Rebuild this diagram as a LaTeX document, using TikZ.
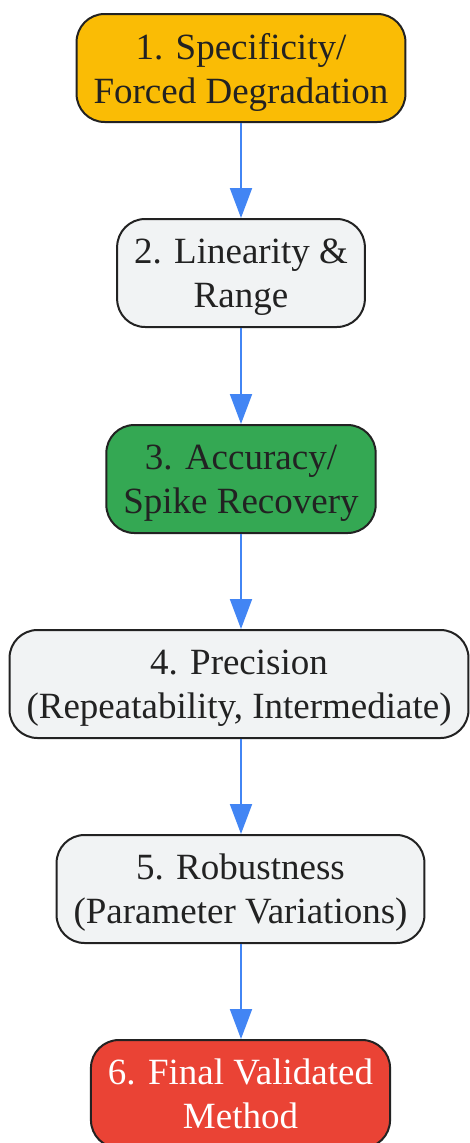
\documentclass[tikz,border=0pt]{standalone}
\usepackage{fontspec}
\setmainfont{Liberation Serif}
\usetikzlibrary{arrows.meta}
\definecolor{jaune}{HTML}{FABC05}
\definecolor{gris}{HTML}{F1F3F4}
\definecolor{vert}{HTML}{34A853}
\definecolor{rouge}{HTML}{EA4335}
\definecolor{bleu}{HTML}{4285F4}
\definecolor{bord}{HTML}{222222}

\begin{document}
\begin{tikzpicture}[x=1pt,y=-1pt]
	\tikzstyle{etape}=[draw=bord,line width=2pt,rounded corners=28pt,minimum height=108pt,inner xsep=17pt,text depth=0pt,align=center,text=bord,font=\fontsize{37}{44}\selectfont]
	\tikzstyle{fleche}=[draw=bleu,line width=2pt,-{Triangle[length=30pt,width=22pt]}]
	\useasboundingbox (0,0) rectangle (470,1143);
	\clip (0,0) rectangle (470,1143);
	\node[etape,fill=jaune] (A) at (241,68){1. Specificity/\\Forced Degradation};
	\node[etape,fill=gris] (B) at (241,273){2. Linearity \&\\Range};
	\node[etape,fill=vert] (C) at (241,479){3. Accuracy/\\Spike Recovery};
	\node[etape,fill=gris] (D) at (239,684){4. Precision\\(Repeatability, Intermediate)};
	\node[etape,fill=gris] (E) at (240.5,889){5. Robustness\\(Parameter Variations)};
	\node[etape,fill=rouge,text=white] (F) at (240.5,1094){6. Final Validated\\Method};
	\draw[fleche] (A.south) -- (A.south |- B.north);
	\draw[fleche] (B.south) -- (B.south |- C.north);
	\draw[fleche] (C.south) -- (C.south |- D.north);
	\draw[fleche] (C.south |- D.south) -- (C.south |- E.north);
	\draw[fleche] (C.south |- E.south) -- (C.south |- F.north);
\end{tikzpicture}
\end{document}
